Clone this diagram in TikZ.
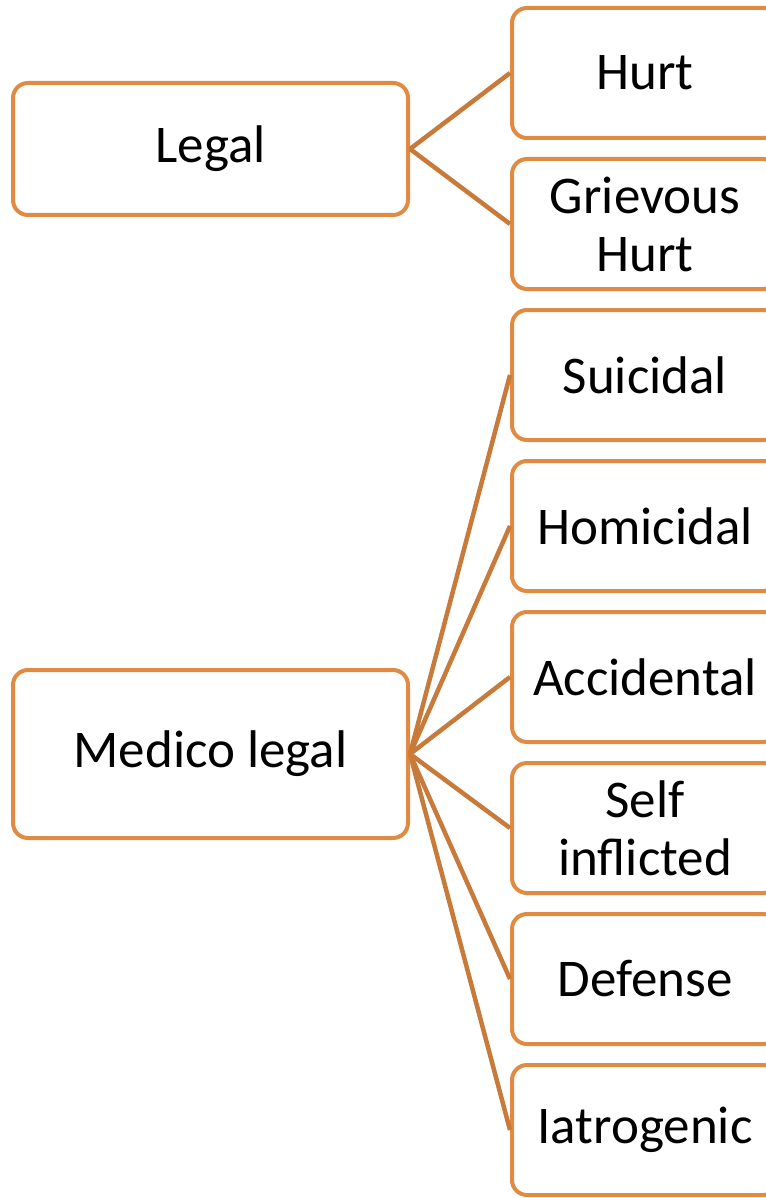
\documentclass[tikz,border=0pt]{standalone}
\usepackage{fontspec}
\setmainfont{Carlito}
\usetikzlibrary{positioning}
\definecolor{boxline}{RGB}{224,138,66}
\definecolor{linkline}{RGB}{200,122,58}
\begin{document}
\begin{tikzpicture}[x=1pt, y=-1pt,
     node distance = 17pt,
        box/.style = {rectangle, rounded corners=15pt, draw=boxline, line width=4pt, fill=white, align=center, font=\fontsize{53}{58}\selectfont},
       pbox/.style = {box, minimum width=395pt},
       cbox/.style = {box, minimum width=266pt, minimum height=130pt, text width=250pt},
       link/.style = {draw=linkline, line width=4.5pt}
                    ]
\useasboundingbox (0,0) rectangle (765,1198);
% left column
\node (legal)  [pbox, minimum height=132pt] at (210.5,149) {Legal};
\node (medico) [pbox, minimum height=168pt] at (210.5,754) {Medico legal};
% right column
\node (hurt)     [cbox] at (645,73) {Hurt};
\node (grievous) [cbox,below =of hurt] {Grievous\\Hurt};
\node (suicidal) [cbox,below =of grievous] {Suicidal};
\node (homicidal)[cbox,below =of suicidal] {Homicidal};
\node (accident) [cbox,below =of homicidal] {Accidental};
\node (self)     [cbox,below =of accident] {Self\\inflicted};
\node (defense)  [cbox,below =of self] {Defense};
\node (iatro)    [cbox,below =of defense] {Iatrogenic};
% links
\draw[link] (legal.east) -- (hurt.west);
\draw[link] (legal.east) -- (grievous.west);
\foreach \c in {suicidal,homicidal,accident,self,defense,iatro}
  \draw[link] (medico.east) -- (\c.west);
\end{tikzpicture}
\end{document}
